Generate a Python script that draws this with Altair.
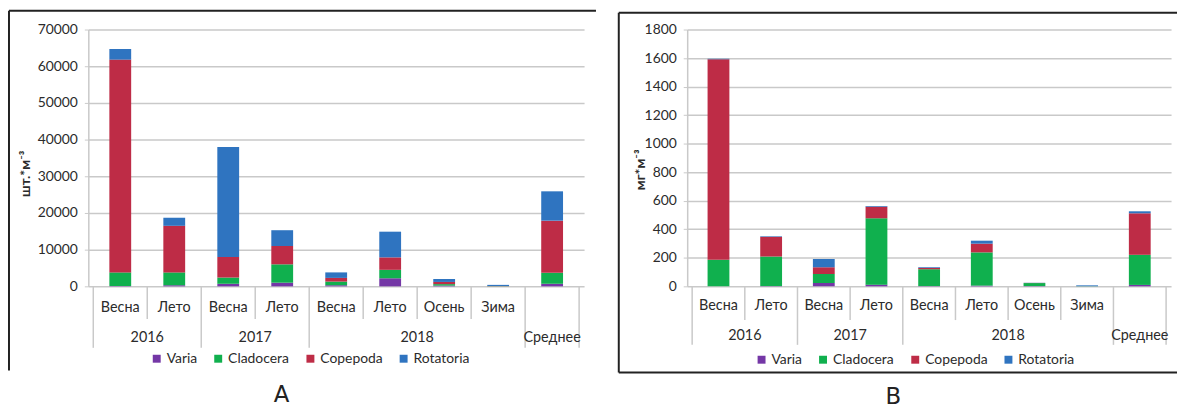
import altair as alt
import pandas as pd

# ---------------- data ----------------
seasons = ["Весна", "Лето", "Весна", "Лето", "Весна", "Лето", "Осень", "Зима", ""]
years = ["2016", "2017", "2018", "Среднее"]
year_start = [0, 2, 4, 8]
year_end = [2, 4, 8, 9]
groups = ["Varia", "Cladocera", "Copepoda", "Rotatoria"]
colors = ["#7437a6", "#10b04e", "#be2c46", "#2f74c0"]

# Panel A: abundance, шт.*м-3
a_varia = [100, 300, 700, 1000, 300, 2200, 200, 0, 700]
a_cladocera = [3700, 3500, 1700, 5000, 1000, 2300, 400, 50, 3000]
a_copepoda = [58000, 12700, 5600, 5000, 1000, 3400, 600, 50, 14200]
a_rotatoria = [2900, 2200, 30000, 4300, 1500, 7000, 800, 300, 8000]

# Panel B: biomass, мг*м-3
b_varia = [0, 2, 23, 12, 2, 5, 2, 0, 10]
b_cladocera = [186, 207, 63, 465, 118, 233, 21, 1, 211]
b_copepoda = [1405, 138, 47, 81, 9, 61, 1, 0, 291]
b_rotatoria = [5, 4, 58, 5, 5, 21, 1, 6, 14]

FONT = "Lato"
TXT = "#2b2b2b"
GRID = "#c9c9c9"


def panel(series, ymax, ystep, ytitle, W, H, frame, letter, legend_xy,
          title_xy, rows):
    recs = []
    for k, (g, vals) in enumerate(zip(groups, series)):
        for i, v in enumerate(vals):
            recs.append({"pos": i + 0.5, "group": g, "k": k, "value": v})
    df = pd.DataFrame(recs)

    xs = alt.X("pos:Q", scale=alt.Scale(domain=[0, 9], nice=False, zero=False), axis=None)

    bars = alt.Chart(df).mark_bar(size=22).encode(
        x=xs,
        y=alt.Y("value:Q", stack="zero",
                scale=alt.Scale(domain=[0, ymax], nice=False),
                axis=alt.Axis(values=list(range(0, ymax + 1, ystep)), format="d",
                              title=ytitle, titleFont=FONT, titleFontSize=14,
                              titleFontWeight="bold", titleColor=TXT,
                              titleAngle=270, titleBaseline="middle",
                              titleX=title_xy[0], titleY=title_xy[1],
                              labelFont=FONT, labelFontSize=14, labelColor=TXT,
                              labelPadding=7, tickSize=4, tickColor=GRID,
                              domainColor=GRID, domainWidth=1.5,
                              gridColor=GRID, gridWidth=1.5)),
        color=alt.Color("group:N",
                        scale=alt.Scale(domain=groups, range=colors),
                        legend=alt.Legend(orient="none", legendX=legend_xy[0],
                                          legendY=legend_xy[1],
                                          direction="horizontal", title=None,
                                          symbolType="square", symbolSize=64,
                                          symbolStrokeWidth=0,
                                          labelFont=FONT, labelFontSize=14,
                                          labelColor=TXT, columnPadding=14,
                                          labelOffset=3)),
        order=alt.Order("k:Q", sort="ascending"),
    )

    sdf = pd.DataFrame({"pos": [i + 0.5 for i in range(9)], "label": seasons})
    season_txt = alt.Chart(sdf).mark_text(
        font=FONT, fontSize=14.5, color=TXT, baseline="middle").encode(
        x=xs, y=alt.value(H + rows[0]), text="label:N")

    ydf = pd.DataFrame({"pos": [(s + e) / 2 for s, e in zip(year_start, year_end)],
                        "label": years})
    year_txt = alt.Chart(ydf).mark_text(
        font=FONT, fontSize=14.5, color=TXT, baseline="middle").encode(
        x=xs, y=alt.value(H + rows[1]), text="label:N")

    long_b = sorted(set(year_start + year_end))
    short_b = [b for b in range(10) if b not in long_b]
    short_sep = alt.Chart(pd.DataFrame({"pos": short_b})).mark_rule(
        color=GRID, strokeWidth=1.5).encode(
        x=xs, y=alt.value(H), y2=alt.value(H + rows[2]))
    long_sep = alt.Chart(pd.DataFrame({"pos": long_b})).mark_rule(
        color=GRID, strokeWidth=1.5).encode(
        x=xs, y=alt.value(H), y2=alt.value(H + rows[3]))

    one = pd.DataFrame({"a": [0]})
    fl, ft, fr, fb, fbottom = frame
    frame_layers = [
        alt.Chart(one).mark_rule(color="#222222", strokeWidth=2).encode(
            x=alt.value(fl), x2=alt.value(fr), y=alt.value(ft)),
        alt.Chart(one).mark_rule(color="#222222", strokeWidth=2).encode(
            x=alt.value(fl), y=alt.value(ft), y2=alt.value(fb)),
    ]
    if fbottom:
        frame_layers.append(
            alt.Chart(one).mark_rule(color="#222222", strokeWidth=2).encode(
                x=alt.value(fl), x2=alt.value(fr), y=alt.value(fb)))

    letter_txt = alt.Chart(pd.DataFrame({"t": [letter[0]]})).mark_text(
        font="DejaVu Sans", fontSize=23, color="#222222",
        baseline="middle").encode(
        x=alt.value(letter[1]), y=alt.value(letter[2]), text="t:N")

    return alt.layer(bars, short_sep, long_sep, season_txt, year_txt,
                     *frame_layers, letter_txt).properties(width=W, height=H)


A = panel([a_varia, a_cladocera, a_copepoda, a_rotatoria], 70000, 10000,
          "шт.*м⁻³", 500, 259,
          frame=(-80, -19, 512, 344, False),
          letter=("A", 195, 369),
          legend_xy=(62, 325),
          title_xy=(-63, 145),
          rows=(22, 52, 33, 62))

B = panel([b_varia, b_cladocera, b_copepoda, b_rotatoria], 1800, 200,
          "мг*м⁻³", 488, 259,
          frame=(-69, -17, 494, 346, True),
          letter=("B", 208, 371),
          legend_xy=(68, 326),
          title_xy=(-47, 141),
          rows=(20, 50, 34, 59))

chart = alt.hconcat(A, B, spacing=21).resolve_scale(
    color="independent").resolve_legend(color="independent").properties(
    padding=0).configure_view(strokeWidth=0)

chart.save("out.html", embed_options={"renderer": "svg", "actions": False})
